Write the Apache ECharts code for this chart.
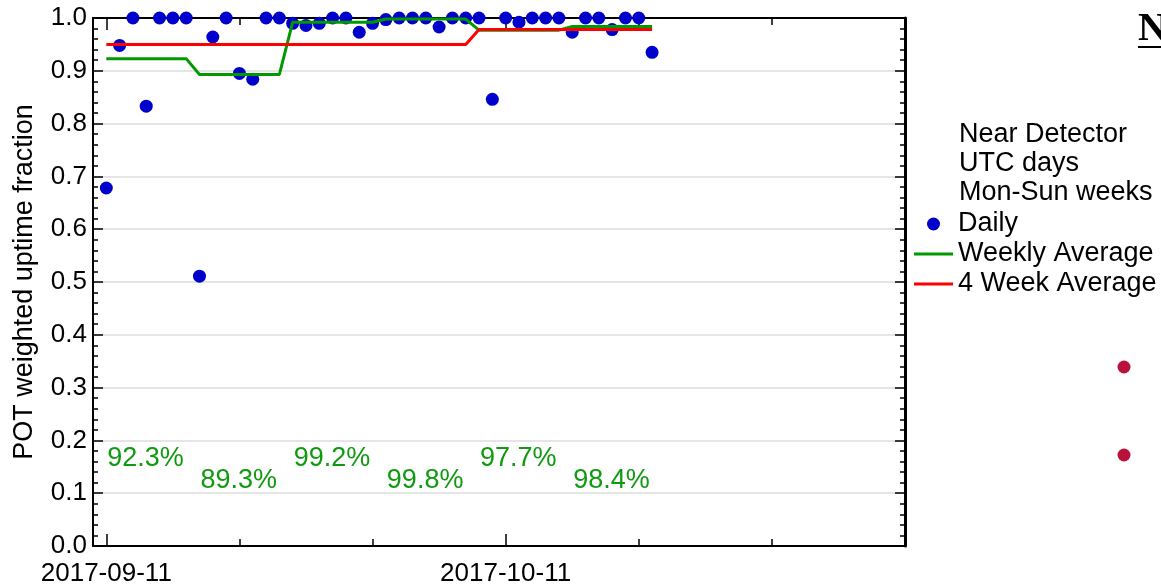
<!DOCTYPE html>
<html>
<head>
<meta charset="utf-8">
<script src="https://cdn.jsdelivr.net/npm/echarts@6/dist/echarts.min.js"></script>
<style>
html, body { margin: 0; padding: 0; background: #fff; }
#main { width: 1161px; height: 587px; }
</style>
</head>
<body>
<div id="main"></div>
<script>
// x range of the plot (one category per UTC day)
const axisFirst = '2017-09-10';
const axisLast = '2017-11-10';
const xLabels = ['2017-09-11', '2017-10-11'];

// daily POT weighted uptime, one value per day from firstDay
const firstDay = '2017-09-11';
const daily = [
  0.678, 0.948, 1.0, 0.833, 1.0, 1.0, 1.0,
  0.511, 0.964, 1.0, 0.895, 0.884, 1.0, 1.0,
  0.990, 0.986, 0.990, 1.0, 1.0, 0.973, 0.990,
  0.997, 1.0, 1.0, 1.0, 0.983, 1.0, 1.0,
  1.0, 0.846, 1.0, 0.992, 1.0, 1.0, 1.0,
  0.973, 1.0, 1.0, 0.978, 1.0, 1.0, 0.935
];

// Mon-Sun weeks
const weekStart = ['2017-09-11', '2017-09-18', '2017-09-25', '2017-10-02', '2017-10-09', '2017-10-16'];
const weekEnd = ['2017-09-17', '2017-09-24', '2017-10-01', '2017-10-08', '2017-10-15', '2017-10-22'];
const weekly = [0.923, 0.893, 0.992, 0.998, 0.977, 0.984];

// 4 week blocks
const blockStart = ['2017-09-11', '2017-10-09'];
const blockEnd = ['2017-10-08', '2017-10-22'];
const fourWeek = [0.950, 0.978];

const FONT = 'Liberation Sans';

function addDays(s, n) {
  const d = new Date(s + 'T00:00:00Z');
  d.setUTCDate(d.getUTCDate() + n);
  return d.toISOString().slice(0, 10);
}

let days = [];
for (let d = axisFirst; d <= axisLast; d = addDays(d, 1)) days.push(d);

const origin = days.indexOf(firstDay);
function isMajor(i) { return (i - origin) % 30 === 0 && i >= origin && i < days.length - 1; }
function isMinor(i) { return (i - origin) % 10 === 0 && i >= origin && !isMajor(i) && i < days.length - 1; }

const dailyData = daily.map((v, i) => [addDays(firstDay, i), v]);
let weeklyData = [];
weekStart.forEach((d, i) => {
  weeklyData.push([d, weekly[i]]);
  weeklyData.push([weekEnd[i], weekly[i]]);
});
let fourWeekData = [];
blockStart.forEach((d, i) => {
  fourWeekData.push([d, fourWeek[i]]);
  fourWeekData.push([blockEnd[i], fourWeek[i]]);
});
const pctData = weekStart.map((d, i) => ({
  value: [d, 0],
  label: { offset: [0, i % 2 ? -65 : -87] }
}));

const black = { color: '#000', width: 2 };
const tickStyle = { color: '#000', width: 1.5 };
const baseX = {
  type: 'category', data: days, boundaryGap: false,
  axisLine: { show: false }, axisLabel: { show: false },
  axisTick: { show: false }, splitLine: { show: false }
};
const lineIcon = 'path://M0,0L39,0L39,3L0,3Z';

const chart = echarts.init(document.getElementById('main'), null, { renderer: 'canvas' });
chart.setOption({
  animation: false,
  backgroundColor: '#fff',
  textStyle: { fontFamily: FONT },
  grid: { left: 93, right: 256, top: 18, bottom: 40, containLabel: false },
  xAxis: [
    Object.assign({}, baseX, {
      position: 'bottom',
      axisLine: { show: true, lineStyle: black },
      axisTick: { show: true, inside: true, length: 12, interval: isMajor, lineStyle: tickStyle },
      axisLabel: {
        show: true, interval: (i, v) => xLabels.includes(v),
        color: '#000', fontSize: 26, fontFamily: FONT, margin: 15
      }
    }),
    Object.assign({}, baseX, {
      position: 'bottom',
      axisTick: { show: true, inside: true, length: 7, interval: isMinor, lineStyle: tickStyle }
    }),
    Object.assign({}, baseX, {
      position: 'top',
      axisLine: { show: true, lineStyle: black },
      axisTick: { show: true, inside: true, length: 12, interval: isMajor, lineStyle: tickStyle }
    }),
    Object.assign({}, baseX, {
      position: 'top',
      axisTick: { show: true, inside: true, length: 7, interval: isMinor, lineStyle: tickStyle }
    })
  ],
  yAxis: [
    {
      type: 'value', min: 0, max: 1, interval: 0.1, position: 'left',
      name: 'POT weighted uptime fraction', nameLocation: 'middle', nameGap: 55,
      nameTextStyle: { color: '#000', fontSize: 27, fontFamily: FONT },
      axisLine: { show: true, lineStyle: black },
      axisTick: { show: true, inside: true, length: 10, lineStyle: tickStyle },
      minorTick: { show: true, splitNumber: 5, length: 5, lineStyle: tickStyle },
      axisLabel: { color: '#000', fontSize: 26, fontFamily: FONT, margin: 6, formatter: v => v.toFixed(1) },
      splitLine: { show: true, lineStyle: { color: '#dcdcdc', width: 1.5 } }
    },
    {
      type: 'value', min: 0, max: 1, interval: 0.1, position: 'right',
      axisLine: { show: true, lineStyle: { color: '#000', width: 3 } },
      axisTick: { show: true, inside: true, length: 10, lineStyle: tickStyle },
      minorTick: { show: true, splitNumber: 5, length: 5, lineStyle: tickStyle },
      axisLabel: { show: false },
      splitLine: { show: false }
    }
  ],
  legend: {
    orient: 'vertical', left: 914, top: 209, padding: 0,
    itemWidth: 39, itemHeight: 13, itemGap: 0, symbolKeepAspect: true,
    textStyle: { color: '#000', fontSize: 27, fontFamily: FONT, lineHeight: 30 },
    data: [
      { name: 'Daily', icon: 'circle' },
      { name: 'Weekly Average', icon: lineIcon },
      { name: '4 Week Average', icon: lineIcon }
    ]
  },
  graphic: [
    { type: 'text', x: 959, y: 135, style: { text: 'Near Detector', font: '27px "Liberation Sans"', fill: '#000', verticalAlign: 'middle' } },
    { type: 'text', x: 959, y: 164, style: { text: 'UTC days', font: '27px "Liberation Sans"', fill: '#000', verticalAlign: 'middle' } },
    { type: 'text', x: 959, y: 193, style: { text: 'Mon-Sun weeks', font: '27px "Liberation Sans"', fill: '#000', verticalAlign: 'middle' } },
    { type: 'text', x: 1138, y: 10, style: { text: 'N', font: 'bold 40px "Liberation Serif"', fill: '#000' } },
    { type: 'rect', shape: { x: 1138, y: 46, width: 30, height: 2 }, style: { fill: '#000' } },
    { type: 'circle', shape: { cx: 1124, cy: 367, r: 6.5 }, style: { fill: '#b9133b' } },
    { type: 'circle', shape: { cx: 1124, cy: 455, r: 6.5 }, style: { fill: '#b9133b' } }
  ],
  series: [
    {
      name: 'Daily', type: 'scatter', data: dailyData, symbol: 'circle', symbolSize: 13,
      itemStyle: { color: '#0000cc', opacity: 1 }, clip: false, z: 2
    },
    {
      name: 'Weekly Average', type: 'line', data: weeklyData, symbol: 'none', showSymbol: false,
      lineStyle: { color: '#009900', width: 3 }, itemStyle: { color: '#009900' }, z: 3
    },
    {
      name: '4 Week Average', type: 'line', data: fourWeekData, symbol: 'none', showSymbol: false,
      lineStyle: { color: '#ff0000', width: 3 }, itemStyle: { color: '#ff0000' }, z: 4
    },
    {
      name: 'labels', type: 'scatter', data: pctData, symbolSize: 0, silent: true, clip: false,
      itemStyle: { opacity: 1 },
      label: {
        show: true, position: 'right', distance: 1, color: '#109a10', fontSize: 27, fontFamily: FONT,
        formatter: p => (weekly[p.dataIndex] * 100).toFixed(1) + '%'
      },
      z: 5
    }
  ]
});
</script>
</body>
</html>
